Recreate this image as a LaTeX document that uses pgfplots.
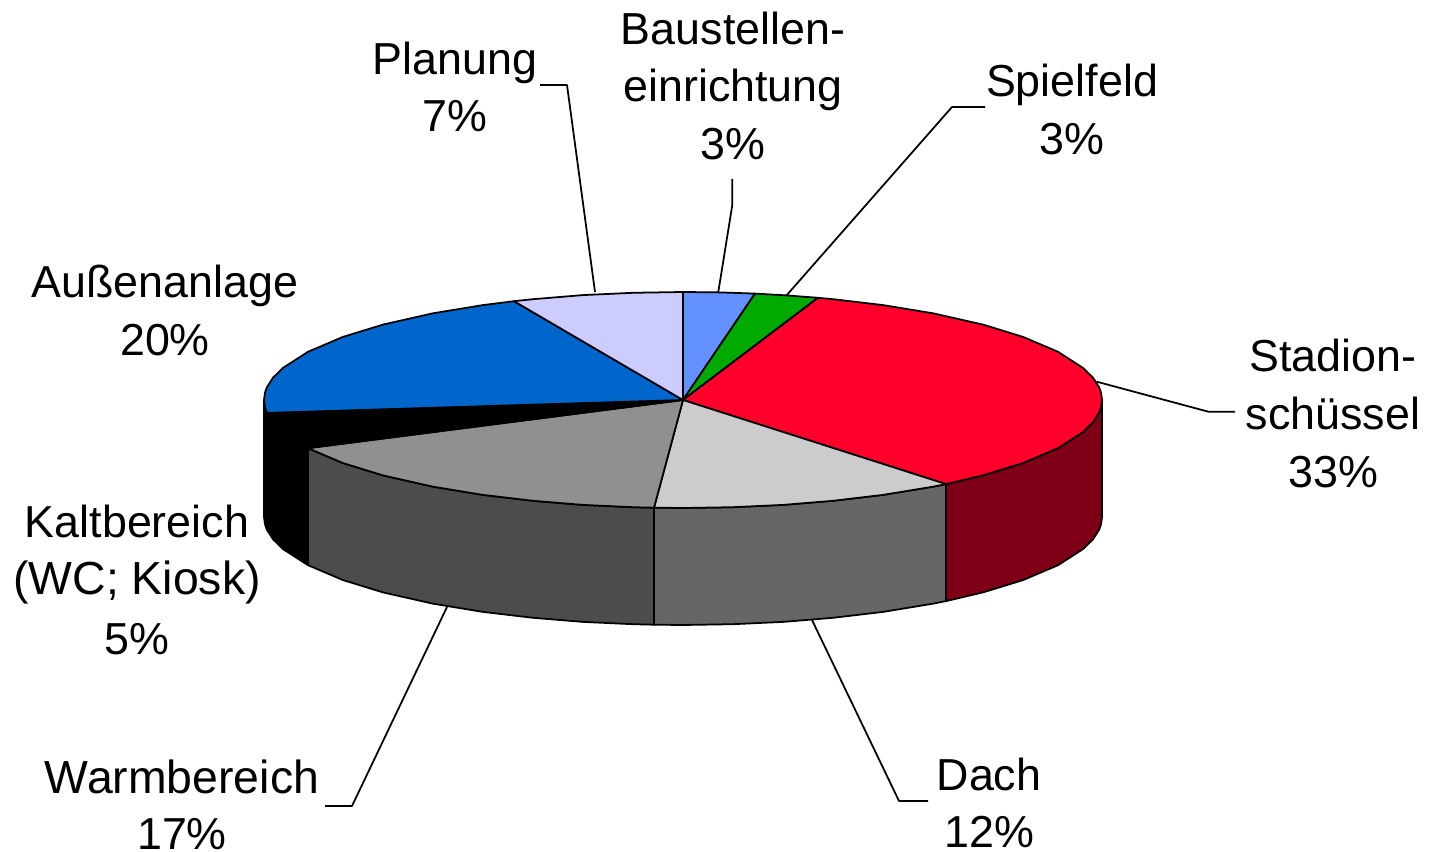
\documentclass[border=0pt]{standalone}
\usepackage{pgfplots}
\pgfplotsset{compat=1.18}
\usepackage{fontspec}
\setmainfont{Liberation Sans}
\tikzset{lab/.style={anchor=base, inner sep=0pt, font=\fontsize{12.75}{16}\selectfont, text=black},
  labw/.style={anchor=base, inner sep=0pt, font=\fontsize{13.2}{16}\selectfont, text=black}}
\begin{document}
\begin{tikzpicture}
\useasboundingbox (0,0) rectangle (14.41cm,8.52cm);
\begin{axis}[
  at={(0,0)}, anchor=south west,
  scale only axis, width=14.41cm, height=8.52cm,
  xmin=0, xmax=1441, ymin=0, ymax=852, y dir=reverse,
  hide axis, clip=false,
  cycle list={{draw=black,solid}},
  every axis plot/.append style={no markers, line join=round, line width=0.5pt, draw=black},
]
% rim
\addplot[fill=black] coordinates {(264,400)(265,407.5)(267,412.9)(273,422.3)(283,432.1)(308,448.2)(308,565.2)(283,549.1)(273,539.3)(267,529.9)(265,524.5)(264,517)} -- cycle;
\addplot[fill=black!70] coordinates {(308,448.2)(343,463.1)(383,475.4)(433,486.7)(483,494.9)(533,500.8)(583,504.9)(633,507.2)(654,507.7)(654,624.7)(633,624.2)(583,621.9)(533,617.8)(483,611.9)(433,603.7)(383,592.4)(343,580.1)(308,565.2)} -- cycle;
\addplot[fill=black!60] coordinates {(654,507.7)(683,508)(733,507.2)(783,504.9)(833,500.8)(883,494.9)(933,486.7)(946,484.1)(946,601.1)(933,603.7)(883,611.9)(833,617.8)(783,621.9)(733,624.2)(683,625)(654,624.7)} -- cycle;
\addplot[fill={rgb,255:red,127;green,0;blue,22}] coordinates {(946,484.1)(983,475.4)(1023,463.1)(1058,448.2)(1083,432.1)(1093,422.3)(1099,412.9)(1101,407.5)(1102,400)(1102,517)(1101,524.5)(1099,529.9)(1093,539.3)(1083,549.1)(1058,565.2)(1023,580.1)(983,592.4)(946,601.1)} -- cycle;
% top face
\addplot[fill={rgb,255:red,99;green,145;blue,255}] coordinates {(683,400)(683,292)(720,292.4)(755,293.6)} -- cycle;
\addplot[fill={rgb,255:red,0;green,170;blue,0}] coordinates {(683,400)(755,293.6)(785,295.3)(818,297.8)} -- cycle;
\addplot[fill={rgb,255:red,255;green,0;blue,43}] coordinates {(683,400)(818,297.8)(833,299.2)(883,305.1)(933,313.3)(983,324.6)(1023,336.9)(1058,351.8)(1083,367.9)(1093,377.7)(1099,387.1)(1101,392.5)(1102,400)(1101,407.5)(1099,412.9)(1093,422.3)(1083,432.1)(1058,448.2)(1023,463.1)(983,475.4)(946,484.1)} -- cycle;
\addplot[fill={rgb,255:red,204;green,204;blue,204}] coordinates {(683,400)(946,484.1)(933,486.7)(883,494.9)(833,500.8)(783,504.9)(733,507.2)(683,508)(654,507.7)} -- cycle;
\addplot[fill={rgb,255:red,144;green,144;blue,144}] coordinates {(683,400)(654,507.7)(633,507.2)(583,504.9)(533,500.8)(483,494.9)(433,486.7)(383,475.4)(343,463.1)(308,448.2)} -- cycle;
\addplot[fill=black] coordinates {(683,400)(308,448.2)(283,432.1)(273,422.3)(267,412.9)} -- cycle;
\addplot[fill={rgb,255:red,0;green,102;blue,204}] coordinates {(683,400)(267,412.9)(265,407.5)(264,400)(265,392.5)(267,387.1)(273,377.7)(283,367.9)(308,351.8)(343,336.9)(383,324.6)(433,313.3)(483,305.1)(514,301.2)} -- cycle;
\addplot[fill={rgb,255:red,204;green,204;blue,255}] coordinates {(683,400)(514,301.2)(533,299.2)(583,295.1)(633,292.8)(683,292)} -- cycle;
% leaders
\addplot coordinates {(540,85)(567,85)(595,292)};
\addplot coordinates {(732.3,179)(732.3,205)(718.3,292)};
\addplot coordinates {(985,107)(952,107)(786,296)};
\addplot coordinates {(1096.7,381.7)(1208.3,411.7)(1235,411.7)};
\addplot coordinates {(812,620)(899,801)(928,801)};
\addplot coordinates {(447,607)(352,806)(325,806)};
% labels
\node[lab] at (axis cs:455,75) {Planung};
\node[lab] at (axis cs:455,132) {7\%};
\node[lab] at (axis cs:733,45) {Baustellen-};
\node[lab] at (axis cs:733,102) {einrichtung};
\node[lab] at (axis cs:733,160) {3\%};
\node[lab] at (axis cs:1072,97) {Spielfeld};
\node[lab] at (axis cs:1072,155) {3\%};
\node[lab] at (axis cs:1333,372) {Stadion-};
\node[lab] at (axis cs:1333,430) {schüssel};
\node[lab] at (axis cs:1333,488) {33\%};
\node[lab] at (axis cs:165,298) {Außenanlage};
\node[lab] at (axis cs:165,356) {20\%};
\node[lab] at (axis cs:137,538) {Kaltbereich};
\node[labw] at (axis cs:137,595) {(WC; Kiosk)};
\node[lab] at (axis cs:137,654) {5\%};
\node[labw] at (axis cs:182,793) {Warmbereich};
\node[lab] at (axis cs:182,849) {17\%};
\node[lab] at (axis cs:989,790) {Dach};
\node[lab] at (axis cs:989,847) {12\%};
\end{axis}
\end{tikzpicture}
\end{document}
